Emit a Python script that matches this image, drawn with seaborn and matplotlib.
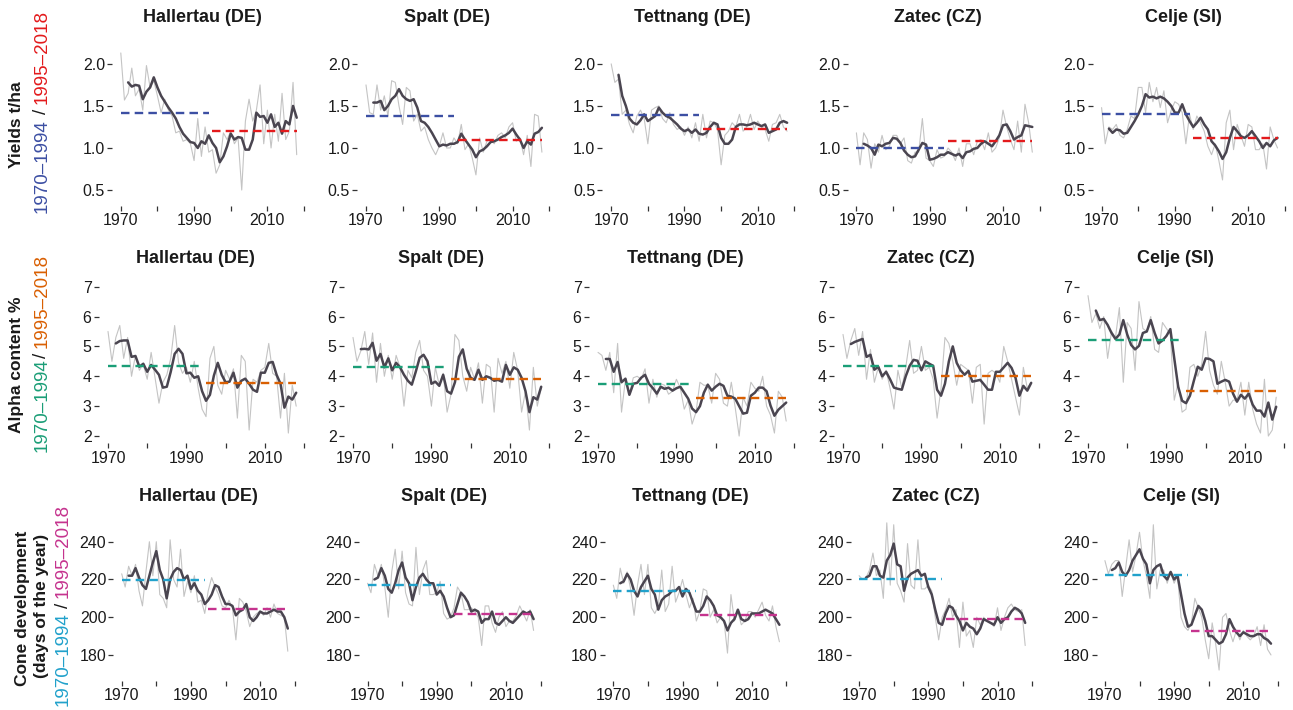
import matplotlib
matplotlib.use("Agg")
import matplotlib.pyplot as plt
import pandas as pd
import seaborn as sns

sns.set_theme(style="white")
plt.rcParams["font.family"] = ["Liberation Sans", "DejaVu Sans"]

# ---------------------------------------------------------------- data
years = list(range(1970, 2019))
smooth_years = list(range(1972, 2019))
regions = ["Hallertau (DE)", "Spalt (DE)", "Tettnang (DE)", "Zatec (CZ)", "Celje (SI)"]
early_period = [1970, 1994]
late_period = [1995, 2018]

# yields t/ha, annual values
yield_raw = {
    "Hallertau (DE)": [2.13, 1.57, 1.65, 1.95, 1.62, 1.70, 1.45, 1.98, 1.72, 1.80, 1.62, 1.42, 1.58, 1.45, 1.38, 1.18, 1.20,
                       1.08, 1.10, 1.05, 0.85, 1.35, 0.90, 1.25, 0.95, 0.98, 0.70, 0.80, 1.18, 1.10, 1.20, 1.05, 1.12, 0.50,
                       1.32, 1.58, 1.32, 1.45, 1.75, 1.05, 1.45, 1.00, 1.40, 1.08, 1.65, 1.10, 1.20, 1.78, 0.92],
    "Spalt (DE)": [1.75, 1.42, 1.40, 1.75, 1.45, 1.62, 1.38, 1.80, 1.78, 1.50, 1.28, 1.72, 1.68, 1.32, 1.40, 1.20, 1.25,
                   1.10, 1.00, 0.92, 1.02, 1.18, 1.00, 1.00, 1.12, 1.05, 1.28, 0.98, 1.05, 0.88, 0.68, 1.12, 0.95, 1.08,
                   1.10, 1.05, 1.15, 1.18, 1.12, 1.25, 1.30, 1.08, 1.12, 0.92, 1.15, 0.78, 1.40, 1.38, 0.95],
    "Tettnang (DE)": [2.00, 1.78, 1.82, 1.40, 1.45, 1.28, 1.18, 1.38, 1.45, 1.35, 1.05, 1.45, 1.48, 1.50, 1.35, 1.30, 1.42,
                      1.28, 1.22, 1.25, 1.15, 1.25, 1.12, 1.30, 1.08, 1.40, 1.12, 1.32, 1.30, 1.22, 0.80, 1.15, 1.20, 1.30,
                      1.25, 1.40, 1.20, 1.25, 1.40, 1.22, 1.32, 1.25, 1.22, 1.08, 1.28, 1.30, 1.40, 1.25, 1.20],
    "Zatec (CZ)": [1.18, 0.80, 1.18, 1.10, 0.76, 1.05, 0.95, 1.15, 0.98, 1.02, 1.15, 1.15, 1.05, 1.12, 0.85, 0.82, 0.95,
                   0.95, 1.35, 0.88, 0.85, 0.78, 0.98, 0.88, 0.90, 1.00, 0.95, 0.85, 1.00, 0.78, 1.05, 1.05, 0.92, 1.08,
                   1.10, 0.98, 1.18, 0.95, 1.00, 1.12, 1.45, 1.25, 1.10, 0.98, 1.32, 0.95, 1.52, 1.30, 0.95],
    "Celje (SI)": [1.48, 1.05, 1.25, 1.22, 1.28, 1.15, 1.12, 1.22, 1.38, 1.35, 1.72, 1.72, 1.42, 1.78, 1.55, 1.72, 1.48,
                   1.68, 1.30, 1.45, 1.55, 1.52, 1.42, 1.05, 1.40, 1.22, 1.38, 1.30, 1.20, 1.02, 0.92, 1.05, 0.85, 0.62,
                   1.30, 1.45, 0.98, 1.28, 1.15, 1.02, 1.28, 1.25, 0.98, 0.98, 1.05, 0.75, 1.25, 1.10, 1.00],
}
# yields, 3-year running line (1972-2018)
yield_smooth = {
    "Hallertau (DE)": [1.78, 1.73, 1.75, 1.74, 1.58, 1.67, 1.72, 1.84, 1.72, 1.62, 1.55, 1.48, 1.42, 1.35, 1.25, 1.17,
                       1.12, 1.07, 1.06, 1.00, 1.08, 1.05, 1.15, 1.06, 1.00, 0.83, 0.90, 1.02, 1.17, 1.10, 1.13, 1.12,
                       0.98, 0.98, 1.10, 1.42, 1.37, 1.38, 1.30, 1.40, 1.25, 1.30, 1.17, 1.32, 1.28, 1.50, 1.36],
    "Spalt (DE)": [1.54, 1.54, 1.56, 1.45, 1.50, 1.58, 1.62, 1.70, 1.62, 1.58, 1.56, 1.58, 1.48, 1.32, 1.30, 1.25, 1.18,
                   1.10, 1.02, 1.04, 1.03, 1.05, 1.05, 1.07, 1.17, 1.10, 1.04, 0.98, 0.89, 0.96, 0.98, 1.02, 1.07, 1.08,
                   1.10, 1.13, 1.15, 1.18, 1.23, 1.16, 1.10, 1.00, 1.08, 1.04, 1.17, 1.19, 1.24],
    "Tettnang (DE)": [1.87, 1.62, 1.50, 1.35, 1.30, 1.28, 1.33, 1.40, 1.32, 1.35, 1.38, 1.48, 1.42, 1.38, 1.36, 1.32,
                      1.28, 1.23, 1.20, 1.22, 1.18, 1.22, 1.17, 1.16, 1.18, 1.25, 1.30, 1.28, 1.12, 1.05, 1.05, 1.10,
                      1.25, 1.28, 1.28, 1.27, 1.28, 1.30, 1.28, 1.26, 1.28, 1.18, 1.20, 1.22, 1.30, 1.32, 1.30],
    "Zatec (CZ)": [1.05, 1.03, 1.00, 0.92, 1.04, 1.02, 1.05, 1.06, 1.12, 1.11, 1.06, 0.97, 0.92, 0.89, 0.90, 0.98, 1.06,
                   1.04, 0.86, 0.87, 0.89, 0.92, 0.92, 0.95, 0.93, 0.91, 0.93, 0.88, 0.95, 0.96, 0.99, 1.00, 1.05, 1.08,
                   1.05, 1.02, 1.08, 1.15, 1.27, 1.28, 1.20, 1.10, 1.13, 1.15, 1.27, 1.26, 1.25],
    "Celje (SI)": [1.23, 1.18, 1.22, 1.21, 1.17, 1.18, 1.25, 1.32, 1.40, 1.50, 1.64, 1.60, 1.61, 1.59, 1.61, 1.59, 1.55,
                   1.50, 1.42, 1.42, 1.52, 1.40, 1.32, 1.25, 1.30, 1.36, 1.28, 1.22, 1.08, 1.03, 0.96, 0.87, 0.95, 1.12,
                   1.25, 1.20, 1.14, 1.12, 1.15, 1.20, 1.14, 1.08, 1.00, 1.06, 1.02, 1.09, 1.12],
}
yield_mean_early = [1.42, 1.38, 1.39, 1.00, 1.40]
yield_mean_late = [1.20, 1.10, 1.23, 1.08, 1.12]

# alpha content %, annual values
alpha_raw = {
    "Hallertau (DE)": [5.50, 4.50, 5.30, 5.70, 4.60, 5.30, 4.00, 4.70, 4.20, 4.40, 3.90, 4.80, 3.95, 3.10, 3.80, 4.05, 4.60,
                       5.70, 4.45, 4.10, 4.30, 3.80, 4.50, 3.60, 2.90, 2.65, 4.60, 5.00, 3.70, 3.40, 4.20, 3.90, 4.25, 2.60,
                       4.70, 4.50, 2.20, 3.90, 3.80, 4.20, 4.30, 5.10, 4.10, 4.00, 2.60, 4.10, 2.10, 3.70, 3.00],
    "Spalt (DE)": [5.30, 4.50, 4.85, 5.50, 4.40, 5.45, 3.80, 5.10, 4.00, 4.70, 3.90, 4.70, 4.30, 3.00, 4.20, 3.95, 4.80,
                   5.20, 4.20, 4.00, 3.00, 4.30, 3.70, 4.10, 2.80, 3.40, 5.40, 5.20, 4.00, 3.50, 4.30, 3.90, 4.45, 3.10,
                   4.40, 4.30, 2.80, 4.60, 4.10, 4.50, 3.60, 4.80, 4.20, 2.80, 3.50, 2.20, 4.30, 3.00, 3.60],
    "Tettnang (DE)": [4.80, 4.70, 4.20, 4.80, 3.45, 5.10, 2.80, 3.90, 3.40, 3.95, 4.00, 3.90, 4.25, 3.10, 3.90, 3.30, 3.75,
                      3.70, 3.40, 3.50, 3.90, 3.60, 2.90, 3.20, 2.40, 2.80, 3.80, 3.70, 3.70, 3.10, 4.10, 3.90, 3.10, 3.00,
                      3.80, 2.95, 2.00, 3.30, 3.00, 3.80, 3.60, 3.50, 4.00, 3.00, 2.70, 2.10, 3.50, 3.30, 2.50],
    "Zatec (CZ)": [5.40, 4.60, 5.20, 5.60, 4.70, 5.50, 3.90, 4.90, 3.80, 4.30, 3.90, 4.20, 3.60, 2.90, 4.20, 3.60, 4.30,
                   5.20, 4.10, 4.20, 5.00, 4.20, 4.30, 3.90, 2.60, 3.60, 5.30, 5.10, 4.50, 3.70, 4.40, 4.30, 4.20, 3.10,
                   4.30, 4.40, 2.40, 4.10, 4.20, 4.10, 3.80, 5.00, 4.50, 3.90, 3.30, 2.70, 4.30, 3.60, 3.80],
    "Celje (SI)": [6.70, 5.80, 6.10, 5.60, 6.00, 4.60, 5.50, 5.30, 6.30, 3.80, 5.80, 5.60, 4.20, 6.50, 5.60, 5.50, 6.00,
                   4.90, 4.80, 5.80, 5.60, 5.40, 3.20, 3.80, 2.80, 2.90, 4.30, 4.40, 4.00, 4.40, 5.50, 4.20, 3.70, 3.40,
                   4.50, 3.80, 3.00, 3.20, 3.20, 3.80, 2.70, 3.80, 2.90, 2.40, 2.10, 3.90, 2.00, 2.20, 3.30],
}
alpha_smooth = {
    "Hallertau (DE)": [5.10, 5.18, 5.20, 5.20, 4.65, 4.68, 4.32, 4.42, 4.15, 4.38, 4.22, 4.05, 3.62, 3.65, 4.15, 4.75,
                       4.92, 4.75, 4.10, 4.12, 3.95, 4.00, 3.50, 3.18, 3.38, 4.02, 4.45, 4.05, 3.80, 3.82, 4.12, 3.62,
                       3.85, 3.92, 3.75, 3.55, 3.48, 4.12, 4.12, 4.45, 4.48, 4.05, 3.75, 2.95, 3.32, 3.22, 3.45],
    "Spalt (DE)": [4.91, 4.92, 4.90, 5.12, 4.52, 4.75, 4.30, 4.60, 4.20, 4.45, 4.30, 4.05, 3.85, 3.72, 4.15, 4.62, 4.72,
                   4.50, 3.75, 3.82, 3.68, 4.05, 3.50, 3.42, 3.80, 4.65, 4.90, 4.25, 3.95, 3.88, 4.22, 3.88, 4.00, 3.95,
                   3.85, 3.88, 3.82, 4.38, 4.05, 4.30, 4.22, 3.95, 3.50, 2.80, 3.30, 3.22, 3.65],
    "Tettnang (DE)": [4.58, 4.58, 4.15, 4.48, 3.80, 3.92, 3.38, 3.75, 3.78, 3.95, 4.05, 3.75, 3.60, 3.42, 3.65, 3.58,
                      3.62, 3.52, 3.60, 3.65, 3.45, 3.25, 2.92, 2.80, 3.00, 3.45, 3.72, 3.52, 3.65, 3.75, 3.68, 3.35,
                      3.32, 3.25, 3.00, 2.75, 2.78, 3.35, 3.45, 3.62, 3.62, 3.50, 3.02, 2.68, 2.88, 3.00, 3.12],
    "Zatec (CZ)": [5.08, 5.15, 5.20, 5.25, 4.65, 4.72, 4.22, 4.32, 4.00, 4.15, 3.90, 3.62, 3.58, 3.55, 4.00, 4.35, 4.55,
                   4.52, 4.20, 4.50, 4.42, 4.35, 3.55, 3.35, 3.75, 4.50, 5.00, 4.45, 4.20, 4.05, 4.18, 3.82, 3.85, 3.88,
                   3.72, 3.55, 3.55, 4.15, 4.15, 4.30, 4.45, 4.28, 3.95, 3.35, 3.68, 3.52, 3.78],
    "Celje (SI)": [6.20, 5.88, 5.92, 5.72, 5.45, 5.25, 5.40, 5.88, 5.40, 5.05, 4.90, 5.02, 5.45, 5.50, 5.88, 5.45, 5.10,
                   5.20, 5.35, 5.58, 4.60, 3.65, 3.18, 3.10, 3.35, 3.85, 4.32, 4.22, 4.60, 4.58, 4.50, 3.75, 3.82, 3.88,
                   3.82, 3.42, 3.15, 3.38, 3.25, 3.42, 3.05, 2.85, 2.85, 2.65, 3.12, 2.55, 2.98],
}
alpha_mean_early = [4.35, 4.30, 3.75, 4.33, 5.23]
alpha_mean_late = [3.78, 3.90, 3.26, 4.00, 3.52]

# cone development, day of year
cone_raw = {
    "Hallertau (DE)": [223, 216, 227, 222, 228, 214, 206, 224, 240, 222, 240, 212, 210, 205, 241, 220, 216, 236, 211, 219,
                       213, 222, 208, 209, 202, 214, 221, 216, 212, 206, 205, 209, 205, 188, 210, 208, 203, 195, 200, 202,
                       203, 201, 205, 200, 207, 202, 201, 200, 182],
    "Spalt (DE)": [218, 213, 228, 222, 228, 216, 200, 224, 236, 215, 235, 213, 207, 206, 237, 212, 225, 230, 212, 212,
                   213, 219, 202, 199, 200, 205, 216, 213, 204, 204, 205, 203, 200, 185, 206, 206, 197, 192, 200, 203,
                   195, 198, 198, 201, 206, 202, 198, 204, 193],
    "Tettnang (DE)": [217, 210, 226, 218, 224, 215, 201, 217, 228, 212, 228, 205, 202, 206, 225, 203, 207, 227, 208, 213,
                      220, 212, 205, 210, 198, 203, 215, 214, 200, 204, 197, 200, 198, 181, 212, 198, 203, 196, 198, 203,
                      203, 200, 204, 208, 201, 198, 206, 195, 187],
    "Zatec (CZ)": [222, 220, 221, 225, 234, 222, 225, 210, 250, 217, 249, 218, 214, 208, 239, 217, 215, 241, 215, 215,
                   217, 214, 200, 188, 200, 204, 210, 200, 204, 184, 208, 190, 193, 184, 200, 196, 200, 198, 197, 195,
                   205, 193, 200, 205, 207, 204, 203, 204, 185],
    "Celje (SI)": [230, 223, 228, 230, 230, 211, 226, 241, 224, 233, 245, 230, 222, 210, 249, 215, 225, 225, 218, 224,
                   218, 222, 200, 195, 193, 197, 210, 205, 200, 188, 178, 197, 186, 172, 200, 202, 193, 187, 193, 188,
                   193, 190, 188, 190, 195, 185, 196, 183, 180],
}
cone_smooth = {
    "Hallertau (DE)": [222, 222, 226, 221, 217, 215, 222, 229, 235, 225, 220, 210, 220, 224, 226, 225, 220, 222, 215, 218,
                       214, 212, 207, 209, 212, 217, 216, 211, 207, 207, 206, 201, 203, 204, 207, 200, 198, 200, 203, 202,
                       202, 203, 204, 203, 203, 200, 194],
    "Spalt (DE)": [220, 221, 226, 222, 215, 213, 218, 225, 229, 221, 218, 209, 216, 221, 223, 220, 218, 218, 212, 214,
                   211, 205, 200, 201, 207, 213, 211, 208, 203, 204, 203, 197, 199, 199, 203, 197, 196, 198, 200, 198,
                   197, 199, 201, 203, 202, 203, 199],
    "Tettnang (DE)": [218, 219, 223, 220, 214, 211, 216, 219, 222, 215, 212, 204, 209, 211, 212, 214, 214, 216, 211, 215,
                      213, 208, 203, 203, 206, 211, 209, 206, 201, 200, 198, 193, 197, 199, 204, 199, 198, 199, 202, 202,
                      202, 203, 204, 203, 202, 199, 196],
    "Zatec (CZ)": [221, 222, 227, 227, 222, 221, 230, 233, 239, 228, 227, 214, 221, 223, 224, 225, 222, 223, 216, 212,
                   204, 197, 196, 202, 206, 205, 201, 198, 193, 197, 195, 194, 191, 194, 199, 198, 197, 196, 200, 197,
                   199, 200, 203, 205, 204, 202, 197],
    "Celje (SI)": [225, 226, 229, 224, 222, 225, 230, 233, 236, 231, 228, 218, 225, 227, 228, 222, 220, 224, 220, 222,
                   212, 202, 195, 196, 201, 206, 204, 198, 190, 190, 188, 186, 187, 191, 199, 195, 192, 190, 192, 191,
                   190, 190, 191, 191, 189, 188, 186],
}
cone_mean_early = [219.8, 217.3, 213.8, 220.3, 222.6]
cone_mean_late = [204.2, 201.8, 201.4, 198.8, 192.6]

# ---------------------------------------------------------------- style / layout
W, H = 1293, 710
RAW_COLOR = "#c4c4c4"
SMOOTH_COLOR = "#4a4550"
TEXT_COLOR = "#1a1a1a"
x_ticks = [1970, 1980, 1990, 2000, 2010, 2020]
x_ticklabels = ["1970", "", "1990", "", "2010", ""]

rows = [
    dict(raw=yield_raw, smooth=yield_smooth, early=yield_mean_early, late=yield_mean_late,
         ylim=(0.31, 2.29), yticks=[0.5, 1.0, 1.5, 2.0], yticklabels=["0.5", "1.0", "1.5", "2.0"],
         c_early="#3c4fa3", c_late="#e31a1c",
         left=112, width=193.5, step=245.2, top=39.5, bottom=206, title_off=21.5),
    dict(raw=alpha_raw, smooth=alpha_smooth, early=alpha_mean_early, late=alpha_mean_late,
         ylim=(1.75, 7.25), yticks=[2, 3, 4, 5, 6, 7], yticklabels=["2", "3", "4", "5", "6", "7"],
         c_early="#1b9e77", c_late="#d95f02",
         left=98.6, width=207, step=245.0, top=279.2, bottom=443.5, title_off=21),
    dict(raw=cone_raw, smooth=cone_smooth, early=cone_mean_early, late=cone_mean_late,
         ylim=(166, 254), yticks=[180, 200, 220, 240], yticklabels=["180", "200", "220", "240"],
         c_early="#21a1cb", c_late="#c5338e",
         left=113.4, width=182.7, step=245.8, top=515.3, bottom=681.4, title_off=19),
]

fig = plt.figure(figsize=(W / 100, H / 100), dpi=100)

for r in rows:
    for i, region in enumerate(regions):
        x0 = r["left"] + i * r["step"]
        ax = fig.add_axes([x0 / W, 1 - r["bottom"] / H, r["width"] / W, (r["bottom"] - r["top"]) / H])

        raw_df = pd.DataFrame({"year": years, "value": r["raw"][region]})
        smooth_df = pd.DataFrame({"year": smooth_years, "value": r["smooth"][region]})

        sns.lineplot(data=raw_df, x="year", y="value", ax=ax, color=RAW_COLOR, lw=0.8, estimator=None)
        sns.lineplot(data=smooth_df, x="year", y="value", ax=ax, color=SMOOTH_COLOR, lw=1.8, estimator=None)
        ax.plot(early_period, [r["early"][i]] * 2, color=r["c_early"], lw=1.7, dashes=(3.6, 2.2))
        ax.plot(late_period, [r["late"][i]] * 2, color=r["c_late"], lw=1.7, dashes=(3.6, 2.2))

        ax.set_xlim(1967.6, 2020.4)
        ax.set_ylim(*r["ylim"])
        ax.set_xticks(x_ticks)
        ax.set_xticklabels(x_ticklabels)
        ax.set_yticks(r["yticks"])
        ax.set_yticklabels(r["yticklabels"])
        ax.set_xlabel("")
        ax.set_ylabel("")
        sns.despine(ax=ax, left=True, bottom=True)
        ax.tick_params(axis="both", bottom=True, left=True, direction="out", length=3.6, width=0.9,
                       color="#333333", labelsize=11.5, labelcolor=TEXT_COLOR, pad=1.5)
        ax.grid(False)

        fig.text((x0 + r["width"] / 2 - 6.5) / W, 1 - (r["top"] - r["title_off"]) / H, region,
                 ha="center", va="center", fontsize=13, fontweight="bold", color=TEXT_COLOR)


# ---------------------------------------------------------------- row labels
def stacked_label(x_px, yc_px, parts, gaps, size=13.5):
    renderer = fig.canvas.get_renderer()
    texts = [fig.text(x_px / W, 0, s, rotation=90, color=c, fontsize=size, ha="center", va="bottom")
             for s, c in parts]
    heights = [t.get_window_extent(renderer).height for t in texts]
    total = sum(heights) + sum(gaps)
    y = 1 - (yc_px + total / 2) / H
    for t, h, g in zip(texts, heights, gaps + [0]):
        t.set_y(y)
        y += (h + g) / H


bold = dict(rotation=90, ha="center", va="center", fontsize=12.5, fontweight="bold", color=TEXT_COLOR)
fig.text(17 / W, 1 - 125 / H, "Yields t/ha", **bold)
fig.text(17 / W, 1 - 365 / H, "Alpha content %", **bold)
fig.text(23 / W, 1 - 608 / H, "Cone development", **bold)
fig.text(42 / W, 1 - 606 / H, "(days of the year)", **bold)

stacked_label(42, 111.5, [("1970–1994", rows[0]["c_early"]), ("/", TEXT_COLOR), ("1995–2018", rows[0]["c_late"])], [5, 5])
stacked_label(42, 353, [("1970–1994", rows[1]["c_early"]), ("/", TEXT_COLOR), ("1995–2018", rows[1]["c_late"])], [0.5, 5])
stacked_label(63, 605, [("1970–1994", rows[2]["c_early"]), ("/", TEXT_COLOR), ("1995–2018", rows[2]["c_late"])], [5, 5])

fig.savefig("out.png", dpi=100)
